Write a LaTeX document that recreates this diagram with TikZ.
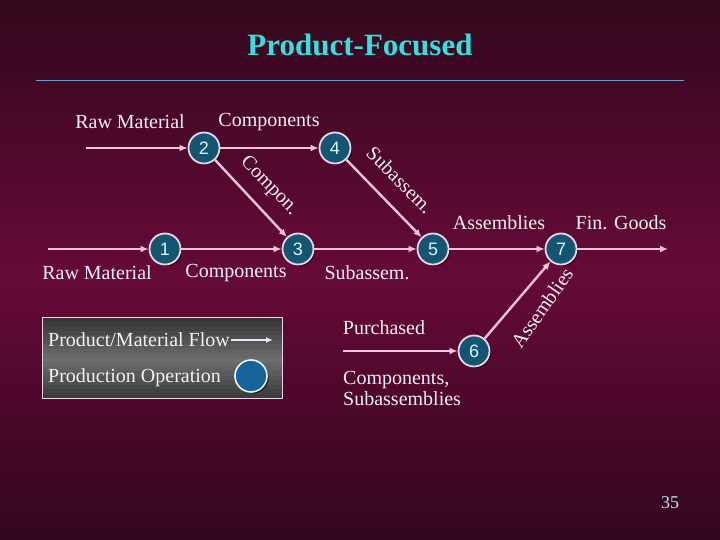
\documentclass[tikz,border=0pt]{standalone}
\usepackage{fontspec}
\setmainfont{Liberation Serif}
\newfontfamily\numfont{Liberation Sans}
\usetikzlibrary{arrows.meta,shadows}
\definecolor{bgtop}{HTML}{34081C}
\definecolor{bgmid}{HTML}{660A38}
\definecolor{bgbot}{HTML}{32061C}
\definecolor{flowc}{HTML}{F2C4DA}
\definecolor{nodeline}{HTML}{E8D6E6}
\definecolor{nodefill}{HTML}{145672}
\definecolor{titlec}{HTML}{33E0E0}
\definecolor{rulec}{HTML}{6F9CC8}
\definecolor{txtc}{HTML}{F4F0F2}
\definecolor{legin}{HTML}{6E6E6E}
\definecolor{legout}{HTML}{363636}
\definecolor{legblue}{HTML}{16649A}
\tikzset{
  op/.style={circle, minimum size=31pt, inner sep=0pt, line width=1.8pt, draw=nodeline,
    fill=nodefill,
    drop shadow={shadow xshift=1.5pt, shadow yshift=-1.5pt, fill=black, opacity=0.6},
    text=cyan!15!white, font=\numfont\fontsize{18}{18}\selectfont},
  flow/.style={draw=flowc, line width=2.4pt, -{Latex[length=8pt,width=7pt]}},
  lbl/.style={text=txtc, font=\fontsize{20}{21}\selectfont, inner sep=0pt},
}
\begin{document}
\begin{tikzpicture}[x=1pt,y=-1pt]
\useasboundingbox (0,0) rectangle (720,540);
% background bands
\foreach \i in {0,...,59}{
  \pgfmathtruncatemacro{\p}{\i<30 ? 100*\i/30 : 100*(60-\i)/30}
  \ifnum\i<30
    \fill[bgmid!\p!bgtop] (0,\i*9) rectangle (720,\i*9+9.5);
  \else
    \fill[bgmid!\p!bgbot] (0,\i*9) rectangle (720,\i*9+9.5);
  \fi
}
% title
\node[text=titlec, font=\bfseries\fontsize{31}{31}\selectfont] (title) at (360,45) {Product-Focused};
\draw[rulec, line width=1pt] (36,81) -- (684,81);
% nodes
\node[op] (n2) at (204,148) {2};
\node[op] (n4) at (335,148) {4};
\node[op] (n1) at (165,249) {1};
\node[op] (n3) at (298,249) {3};
\node[op] (n5) at (433,249) {5};
\node[op] (n7) at (561,249) {7};
\node[op] (n6) at (474,351) {6};
\coordinate (s2) at (86,148);
\coordinate (s1) at (48,249);
\coordinate (s6) at (343,351);
\coordinate (e7) at (668,249);
% flows
\draw[flow] (s2) -- (n2);
\draw[flow] (n2) -- (n4);
\draw[flow] (s1) -- (n1);
\draw[flow] (n1) -- (n3);
\draw[flow] (n2) -- (n3);
\draw[flow] (n4) -- (n5);
\draw[flow] (n3) -- (n5);
\draw[flow] (n5) -- (n7);
\draw[flow] (n7) -- (e7);
\draw[flow] (s6) -- (n6);
\draw[flow] (n6) -- (n7);
% labels
\node[lbl] (l1) at (130,122) {Raw Material};
\node[lbl] (l2) at (269,122) {Components};
\node[lbl, rotate=-46] (l3) at (269,186) {Compon.};
\node[lbl, rotate=-45] (l4) at (400,180) {Subassem.};
\node[lbl] (l5) at (499,223) {Assemblies};
\node[lbl] (l6) at (621,223) {Fin. Goods};
\node[lbl] (l7) at (97,273) {Raw Material};
\node[lbl] (l8) at (236,273) {Components};
\node[lbl] (l9) at (367,273) {Subassem.};
\node[lbl] (l10) at (384,328) {Purchased};
\node[lbl, anchor=west, align=left] (l11) at (343,388) {Components,\\Subassemblies};
\node[lbl, rotate=55] (l12) at (542,308) {Assemblies};
% legend
\foreach \j in {0,...,17}{
  \pgfmathtruncatemacro{\q}{\j<9 ? 100*\j/9 : 100*(18-\j)/9}
  \fill[legin!\q!legout] (42,317+\j*4.5) rectangle (282,317+\j*4.5+5);
}
\draw[draw=nodeline, line width=0.8pt] (42,317) rectangle (282,398);
\node[lbl, anchor=west] (lg1) at (48,340) {Product/Material Flow};
\coordinate (la) at (231,340);
\coordinate (lb) at (273,340);
\draw[draw=white!90!blue, line width=2.4pt, -{Latex[length=7pt,width=6pt]}] (la) -- (lb);
\node[lbl, anchor=west] (lg2) at (48,378) {Production Operation};
\node[circle, minimum size=32pt, inner sep=0pt, line width=1.6pt, draw=cyan!10!white,
  fill=legblue,
  drop shadow={shadow xshift=1.5pt, shadow yshift=-1.5pt, fill=black, opacity=0.7}] (lc) at (251,376) {};
% page number
\node[text=cyan!30!white, font=\fontsize{18}{18}\selectfont] (pg) at (670,503) {35};
\end{tikzpicture}
\end{document}
